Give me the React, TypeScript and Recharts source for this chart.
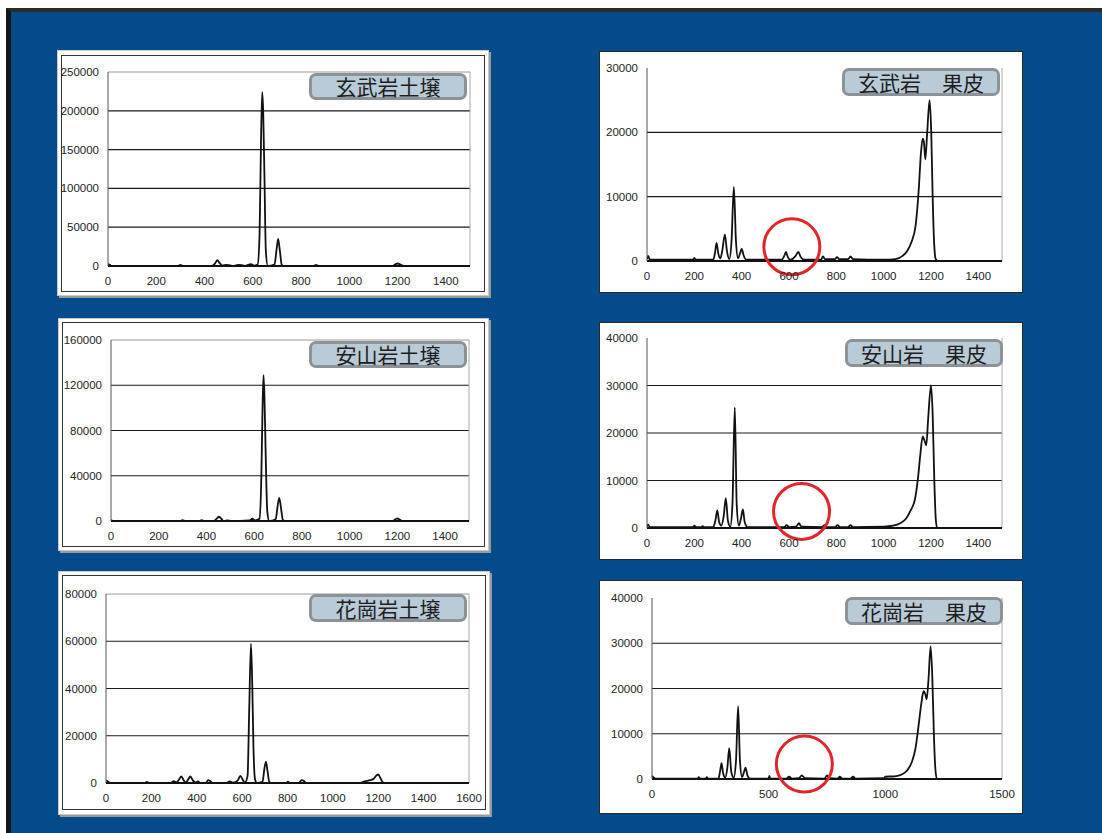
import React from 'react';
import { LineChart, Line, XAxis, YAxis, ReferenceLine, ReferenceDot } from 'recharts';

type Pt = [number, number];

// channel, counts
const basaltSoil: Pt[] = [
  [0, 2500], [8, 1500], [15, 0], [290, 0], [300, 1500], [310, 0], [430, 0], [445, 4000], [453, 7500], [462, 4000],
  [475, 500], [490, 1500], [505, 800], [520, 0], [540, 1500], [555, 1200], [570, 0], [580, 1500], [592, 2500], [605, 500],
  [620, 2000], [628, 40000], [634, 160000], [639, 224000], [643, 200000], [648, 120000], [654, 20000], [662, 0],
  [690, 2000], [698, 20000], [705, 35000], [712, 20000], [720, 1500], [730, 0], [850, 0], [862, 1500], [875, 0],
  [1180, 0], [1192, 2500], [1200, 3200], [1210, 2000], [1225, 0], [1500, 0],
];

const andesiteSoil: Pt[] = [
  [0, 1000], [10, 0], [290, 0], [300, 800], [310, 0], [370, 0], [380, 700], [390, 0], [430, 0], [445, 2500],
  [452, 3800], [460, 2500], [472, 0], [490, 600], [500, 0], [580, 500], [592, 2000], [605, 500], [622, 2000],
  [630, 40000], [635, 100000], [639, 129000], [643, 110000], [648, 60000], [655, 8000], [663, 0], [690, 1500],
  [698, 13000], [705, 20500], [712, 12000], [720, 1000], [730, 0], [1180, 0], [1193, 1800], [1200, 2200],
  [1210, 1200], [1222, 0], [1500, 0],
];

const graniteSoil: Pt[] = [
  [0, 1200], [10, 500], [20, 0], [170, 0], [180, 500], [190, 0], [285, 0], [298, 800], [310, 300], [322, 1500],
  [332, 2800], [342, 1200], [352, 200], [362, 1500], [372, 2800], [382, 1200], [395, 200], [405, 700], [415, 0],
  [440, 0], [450, 1200], [460, 800], [470, 0], [530, 0], [545, 700], [560, 200], [580, 1000], [592, 3000],
  [602, 1500], [612, 200], [624, 3000], [631, 30000], [639, 59000], [645, 40000], [650, 15000], [657, 1500],
  [665, 0], [690, 500], [698, 6000], [705, 9000], [712, 5000], [720, 500], [730, 0], [795, 0], [802, 600], [810, 0],
  [850, 0], [862, 1200], [872, 900], [882, 0], [1120, 0], [1140, 700], [1165, 1200], [1180, 1800], [1193, 3300],
  [1200, 3600], [1210, 2000], [1220, 300], [1230, 0], [1480, 0],
];

const basaltPeel: Pt[] = [
  [0, 300], [5, 800], [12, 200], [195, 200], [200, 500], [205, 200], [280, 200], [287, 1200], [294, 2800],
  [301, 1200], [310, 400], [318, 1600], [329, 4100], [338, 1500], [348, 300], [357, 3000], [367, 11500],
  [376, 3000], [385, 400], [393, 1200], [400, 1900], [408, 900], [420, 200], [570, 200], [580, 800], [587, 1400],
  [595, 600], [605, 200], [628, 800], [639, 1400], [650, 600], [665, 200], [735, 200], [744, 700], [752, 300],
  [795, 300], [803, 600], [812, 300], [850, 300], [860, 700], [870, 300], [1000, 200], [1050, 300], [1080, 800],
  [1100, 1600], [1118, 3000], [1135, 5500], [1148, 11000], [1158, 17000], [1165, 19000], [1170, 18500],
  [1176, 15800], [1184, 20000], [1194, 25000], [1201, 20000], [1207, 10000], [1213, 3000], [1220, 300],
  [1230, 0], [1500, 0],
];

const andesitePeel: Pt[] = [
  [0, 300], [5, 700], [12, 200], [195, 200], [200, 500], [207, 200], [230, 200], [235, 400], [240, 200],
  [280, 200], [289, 1600], [297, 3700], [305, 1200], [314, 500], [324, 2500], [333, 6300], [342, 1500],
  [352, 300], [361, 5000], [371, 25400], [379, 5000], [388, 500], [397, 2000], [405, 3900], [413, 1200],
  [425, 200], [580, 200], [590, 600], [600, 200], [630, 300], [642, 1000], [652, 300], [740, 200], [750, 600],
  [760, 200], [795, 200], [805, 600], [815, 200], [850, 200], [860, 600], [870, 200], [1000, 300], [1040, 500],
  [1070, 1000], [1095, 2000], [1115, 3800], [1132, 6000], [1145, 10500], [1155, 15500], [1165, 19300],
  [1172, 18500], [1180, 17400], [1188, 23000], [1200, 30000], [1207, 24000], [1214, 10000], [1220, 2000],
  [1226, 0], [1500, 0],
];

const granitePeel: Pt[] = [
  [0, 700], [8, 300], [15, 100], [195, 100], [200, 400], [206, 100], [230, 100], [235, 400], [240, 100],
  [285, 100], [292, 1800], [298, 3500], [305, 1200], [314, 300], [323, 2500], [331, 6800], [340, 1500],
  [350, 300], [360, 4000], [369, 16100], [377, 4000], [386, 400], [394, 1500], [401, 2500], [409, 800],
  [420, 100], [500, 100], [503, 700], [506, 100], [575, 100], [588, 500], [600, 100], [630, 200], [642, 800],
  [655, 200], [740, 100], [750, 800], [758, 200], [795, 100], [805, 500], [815, 100], [850, 100], [862, 500],
  [872, 100], [995, 200], [1000, 500], [1040, 600], [1070, 1000], [1095, 2000], [1114, 3800], [1130, 7000],
  [1143, 12000], [1155, 17000], [1164, 19400], [1171, 18800], [1177, 17600], [1185, 22000], [1194, 29300],
  [1201, 23000], [1208, 10000], [1214, 2500], [1221, 0], [1500, 0],
];

const xTicks1500 = [0, 200, 400, 600, 800, 1000, 1200, 1400];
const xTicks1600 = [0, 200, 400, 600, 800, 1000, 1200, 1400, 1600];
const xTicks500 = [0, 500, 1000, 1500];
const yTicksBasaltSoil = [0, 50000, 100000, 150000, 200000, 250000];
const yTicksAndesiteSoil = [0, 40000, 80000, 120000, 160000];
const yTicksGraniteSoil = [0, 20000, 40000, 60000, 80000];
const yTicks30k = [0, 10000, 20000, 30000];
const yTicks40k = [0, 10000, 20000, 30000, 40000];

const titles = ['玄武岩土壌', '玄武岩　果皮', '安山岩土壌', '安山岩　果皮', '花崗岩土壌', '花崗岩　果皮'];

type Rect = { l: number; t: number; r: number; b: number };

type PanelProps = {
  data: Pt[];
  plot: Rect;
  xMax: number;
  xTicks: number[];
  yTicks: number[];
  title: string;
  titleBox: Rect;
  circle?: [number, number];
  topBorder?: boolean;
};

const ML = 60;
const MT = 14;
const MR = 14;
const MB = 30;
const tickStyle = { fill: '#222', fontSize: 11.5, fontFamily: 'Liberation Sans, Arial, sans-serif' };

function Spectrum({ data, plot, xMax, xTicks, yTicks, title, titleBox, circle, topBorder }: PanelProps) {
  const rows = data.map(([x, y]) => ({ x, y }));
  const yMax = yTicks[yTicks.length - 1];
  return (
    <>
      <div style={{ position: 'absolute', left: plot.l - ML, top: plot.t - MT }}>
        <LineChart
          width={plot.r - plot.l + ML + MR}
          height={plot.b - plot.t + MT + MB}
          data={rows}
          margin={{ top: MT, right: MR, left: 0, bottom: 0 }}
        >
          <XAxis
            type="number"
            dataKey="x"
            domain={[0, xMax]}
            ticks={xTicks}
            interval={0}
            height={MB}
            tickLine={false}
            tickMargin={5}
            axisLine={{ stroke: '#111', strokeWidth: 2 }}
            tick={tickStyle}
            allowDataOverflow
          />
          <YAxis
            type="number"
            domain={[0, yMax]}
            ticks={yTicks}
            interval={0}
            width={ML}
            tickLine={false}
            tickMargin={3}
            axisLine={{ stroke: '#555' }}
            tick={tickStyle}
            allowDataOverflow
          />
          {yTicks.slice(1, -1).map((v) => (
            <ReferenceLine key={v} y={v} stroke="#1a1a1a" strokeWidth={1.2} />
          ))}
          {topBorder && <ReferenceLine y={yMax} stroke="#9a9a9a" />}
          <ReferenceLine x={xMax} stroke="#a8a8a8" />
          <Line
            type="monotone"
            dataKey="y"
            stroke="#111"
            strokeWidth={1.8}
            dot={false}
            isAnimationActive={false}
          />
          {circle && (
            <ReferenceDot
              x={circle[0]}
              y={circle[1]}
              r={28}
              fill="none"
              stroke="#e3242b"
              strokeWidth={3}
              ifOverflow="visible"
            />
          )}
        </LineChart>
      </div>
      <div
        style={{
          position: 'absolute',
          left: titleBox.l,
          top: titleBox.t,
          width: titleBox.r - titleBox.l,
          height: titleBox.b - titleBox.t,
          boxSizing: 'border-box',
          border: '3px solid #8b9399',
          borderRadius: 7,
          background: '#b8cbd7',
          display: 'flex',
          alignItems: 'center',
          justifyContent: 'center',
          fontFamily: '"Noto Sans CJK JP", sans-serif',
          fontSize: 21,
          color: '#1e1e1e',
          lineHeight: 1,
          whiteSpace: 'pre',
        }}
      >
        {title}
      </div>
    </>
  );
}

function LeftFrame({ o, i }: { o: Rect; i: Rect }) {
  return (
    <>
      <div
        style={{
          position: 'absolute', left: o.l, top: o.t, width: o.r - o.l, height: o.b - o.t,
          background: '#fff', border: '1px solid #c9c9c9', boxSizing: 'border-box',
          boxShadow: '2px 2px 0 #9a9a9a',
        }}
      />
      <div
        style={{
          position: 'absolute', left: i.l, top: i.t, width: i.r - i.l, height: i.b - i.t,
          border: '1px solid #333', boxSizing: 'border-box',
        }}
      />
    </>
  );
}

function RightFrame({ o }: { o: Rect }) {
  return (
    <div
      style={{
        position: 'absolute', left: o.l, top: o.t, width: o.r - o.l, height: o.b - o.t,
        background: '#fff', border: '1px solid #2a2a2a', boxSizing: 'border-box',
      }}
    />
  );
}

export default function App() {
  return (
    <div style={{ position: 'absolute', left: 0, top: 0, width: 1102, height: 833, background: '#fff', overflow: 'hidden' }}>
      <div
        style={{
          position: 'absolute', left: 6, top: 8, width: 1096, height: 825, boxSizing: 'border-box',
          background: '#044b8b', borderLeft: '5px solid #151515', borderTop: '4px solid #2a2a2a',
        }}
      />

      <LeftFrame o={{ l: 57, t: 50, r: 489, b: 296 }} i={{ l: 61, t: 55, r: 485, b: 292 }} />
      <LeftFrame o={{ l: 58, t: 318, r: 489, b: 551 }} i={{ l: 62, t: 322, r: 485, b: 547 }} />
      <LeftFrame o={{ l: 58, t: 571, r: 490, b: 815 }} i={{ l: 62, t: 575, r: 486, b: 810 }} />
      <RightFrame o={{ l: 599, t: 51, r: 1023, b: 293 }} />
      <RightFrame o={{ l: 599, t: 322, r: 1023, b: 560 }} />
      <RightFrame o={{ l: 599, t: 580, r: 1023, b: 814 }} />

      <Spectrum
        data={basaltSoil}
        plot={{ l: 108, t: 72, r: 470, b: 266 }}
        xMax={1500}
        xTicks={xTicks1500}
        yTicks={yTicksBasaltSoil}
        title={titles[0]}
        titleBox={{ l: 309, t: 73, r: 467, b: 100 }}
        topBorder
      />
      <Spectrum
        data={basaltPeel}
        plot={{ l: 647, t: 68, r: 1002, b: 261 }}
        xMax={1500}
        xTicks={xTicks1500}
        yTicks={yTicks30k}
        title={titles[1]}
        titleBox={{ l: 842, t: 68, r: 1000, b: 96 }}
        circle={[612, 2200]}
      />
      <Spectrum
        data={andesiteSoil}
        plot={{ l: 111, t: 340, r: 469, b: 521 }}
        xMax={1500}
        xTicks={xTicks1500}
        yTicks={yTicksAndesiteSoil}
        title={titles[2]}
        titleBox={{ l: 309, t: 341, r: 467, b: 368 }}
        topBorder
      />
      <Spectrum
        data={andesitePeel}
        plot={{ l: 647, t: 338, r: 1002, b: 528 }}
        xMax={1500}
        xTicks={xTicks1500}
        yTicks={yTicks40k}
        title={titles[3]}
        titleBox={{ l: 845, t: 339, r: 1003, b: 367 }}
        circle={[653, 3500]}
      />
      <Spectrum
        data={graniteSoil}
        plot={{ l: 106, t: 594, r: 469, b: 783 }}
        xMax={1600}
        xTicks={xTicks1600}
        yTicks={yTicksGraniteSoil}
        title={titles[4]}
        titleBox={{ l: 309, t: 594, r: 467, b: 622 }}
        topBorder
      />
      <Spectrum
        data={granitePeel}
        plot={{ l: 652, t: 598, r: 1002, b: 779 }}
        xMax={1500}
        xTicks={xTicks500}
        yTicks={yTicks40k}
        title={titles[5]}
        titleBox={{ l: 845, t: 597, r: 1003, b: 625 }}
        circle={[653, 3300]}
      />
    </div>
  );
}
